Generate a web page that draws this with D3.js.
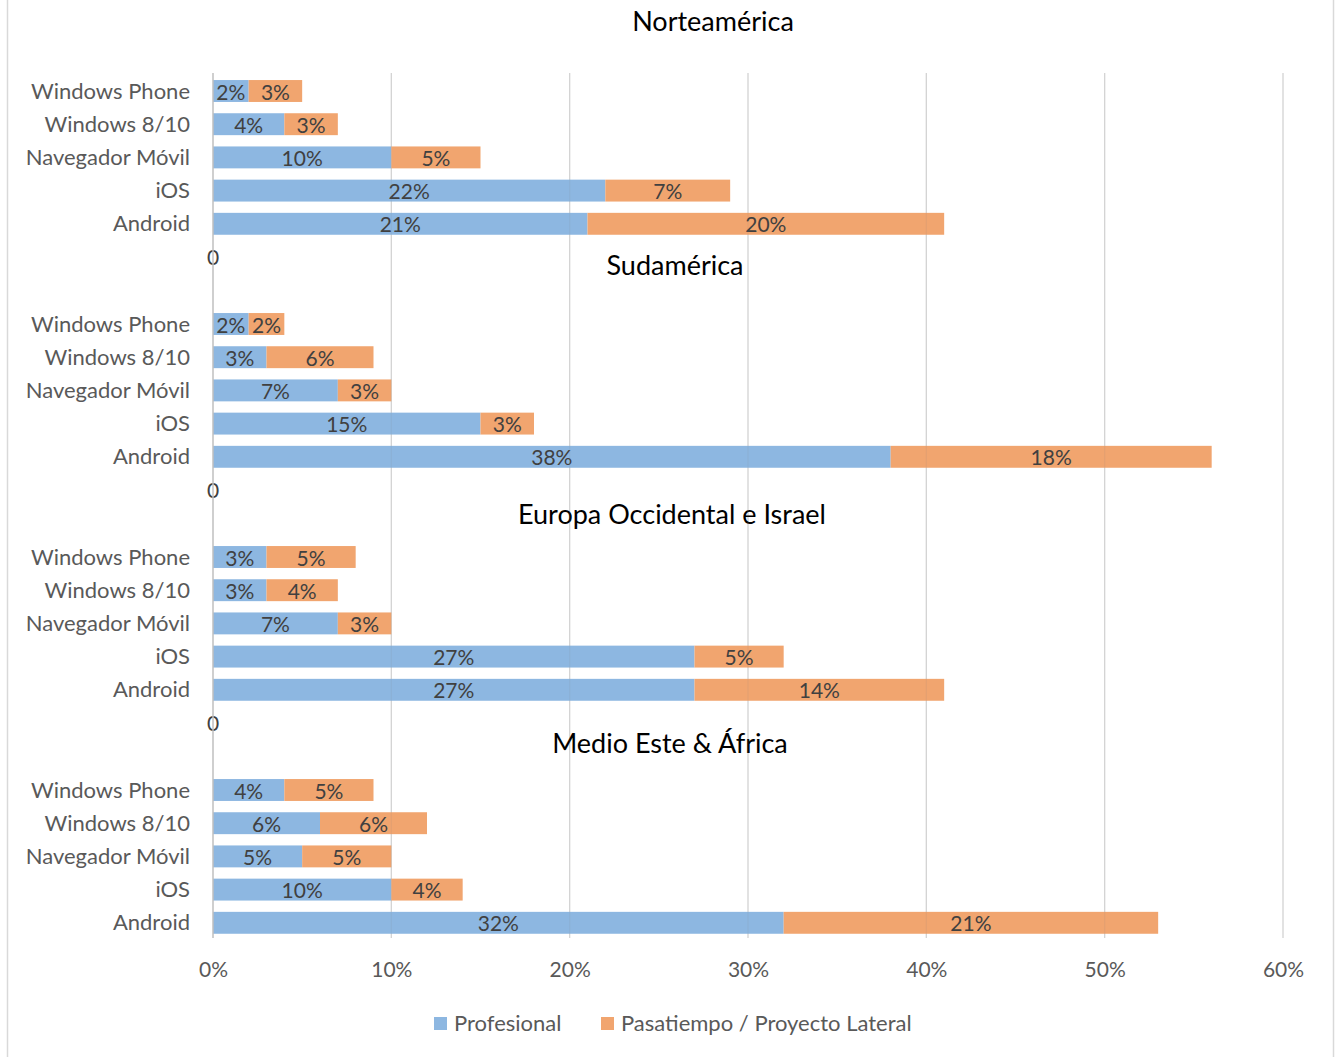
<!DOCTYPE html>
<html>
<head>
<meta charset="utf-8">
<script src="https://cdn.jsdelivr.net/npm/d3@7"></script>
<style>
  body { margin: 0; background: #fff; }
  svg { display: block; font-family: Lato, "Open Sans", sans-serif; }
</style>
</head>
<body>
<svg id="visu" width="1338" height="1057"></svg>
<script>
// data
var regions = ["Norteamérica", "Sudamérica", "Europa Occidental e Israel", "Medio Este & África"];
var platforms = ["Windows Phone", "Windows 8/10", "Navegador Móvil", "iOS", "Android"];
var seriesNames = ["Profesional", "Pasatiempo / Proyecto Lateral"];
var profesional = [
  [2, 4, 10, 22, 21],
  [2, 3, 7, 15, 38],
  [3, 3, 7, 27, 27],
  [4, 6, 5, 10, 32]
];
var pasatiempo = [
  [3, 3, 5, 7, 20],
  [2, 6, 3, 3, 18],
  [5, 4, 3, 5, 14],
  [5, 6, 5, 4, 21]
];
var xTicks = [0, 10, 20, 30, 40, 50, 60];

var svg = d3.select("#visu"),
    WIDTH = 1338,
    HEIGHT = 1057,
    colors = ["#8db7e1", "#f1a56f"],
    titleY = [20, 264, 513, 742],
    titleX = [713, 675, 672, 670],
    panelTop = 74.4,
    panelStep = 233,
    panelH = 166;

var xScale = d3.scaleLinear().domain([0, 60]).range([213, 1283]);

// outer frame (left/right edges)
svg.append("line").attr("x1", 7.5).attr("x2", 7.5).attr("y1", 0).attr("y2", HEIGHT)
  .attr("stroke", "#d9d9d9").attr("stroke-width", 1.5);
svg.append("line").attr("x1", 1333.5).attr("x2", 1333.5).attr("y1", 0).attr("y2", HEIGHT)
  .attr("stroke", "#d9d9d9").attr("stroke-width", 1.5);

// gridlines
svg.append("g").selectAll("line")
  .data(xTicks.slice(1))
  .join("line")
  .attr("x1", function(d) { return xScale(d); })
  .attr("x2", function(d) { return xScale(d); })
  .attr("y1", 73).attr("y2", 938)
  .attr("stroke", "#dedede").attr("stroke-width", 1.3);

// panels
regions.forEach(function(region, i) {
  var y0 = panelTop + i * panelStep;
  var yScale = d3.scaleBand()
    .domain(platforms)
    .range([y0, y0 + panelH])
    .paddingInner(0.34)
    .paddingOuter(0.17);

  var g = svg.append("g");

  g.append("text")
    .attr("x", titleX[i]).attr("y", titleY[i])
    .attr("text-anchor", "middle").attr("dominant-baseline", "central")
    .attr("font-size", 27).attr("fill", "#000")
    .text(region);

  var rows = platforms.map(function(p, j) {
    return { cat: p, a: profesional[i][j], b: pasatiempo[i][j] };
  });

  // category labels
  g.selectAll(".cat")
    .data(rows)
    .join("text")
    .attr("x", 190)
    .attr("y", function(d) { return yScale(d.cat) + yScale.bandwidth() / 2 - 1; })
    .attr("text-anchor", "end").attr("dominant-baseline", "central")
    .attr("font-size", 22).attr("fill", "#595959")
    .text(function(d) { return d.cat; });

  // blue segments
  g.selectAll(".pro")
    .data(rows)
    .join("rect")
    .attr("x", xScale(0))
    .attr("y", function(d) { return yScale(d.cat); })
    .attr("width", function(d) { return xScale(d.a) - xScale(0); })
    .attr("height", yScale.bandwidth())
    .attr("fill", colors[0]);

  // orange segments
  g.selectAll(".hob")
    .data(rows)
    .join("rect")
    .attr("x", function(d) { return xScale(d.a); })
    .attr("y", function(d) { return yScale(d.cat); })
    .attr("width", function(d) { return xScale(d.a + d.b) - xScale(d.a); })
    .attr("height", yScale.bandwidth())
    .attr("fill", colors[1]);

  // data labels
  g.selectAll(".lblA")
    .data(rows)
    .join("text")
    .attr("x", function(d) { return xScale(d.a / 2); })
    .attr("y", function(d) { return yScale(d.cat) + yScale.bandwidth() / 2; })
    .attr("text-anchor", "middle").attr("dominant-baseline", "central")
    .attr("font-size", 21).attr("fill", "#404040")
    .text(function(d) { return d.a + "%"; });
  g.selectAll(".lblB")
    .data(rows)
    .join("text")
    .attr("x", function(d) { return xScale(d.a + d.b / 2); })
    .attr("y", function(d) { return yScale(d.cat) + yScale.bandwidth() / 2; })
    .attr("text-anchor", "middle").attr("dominant-baseline", "central")
    .attr("font-size", 21).attr("fill", "#404040")
    .text(function(d) { return d.b + "%"; });

  // leftover "0" category label under each of the first panels
  if (i < regions.length - 1) {
    g.append("text")
      .attr("x", xScale(0)).attr("y", y0 + panelH + 16)
      .attr("text-anchor", "middle").attr("dominant-baseline", "central")
      .attr("font-size", 21).attr("fill", "#404040")
      .text("0");
  }
});

// gridlines drawn faintly over bars as well
svg.append("g").selectAll("line")
  .data(xTicks.slice(1))
  .join("line")
  .attr("x1", function(d) { return xScale(d); })
  .attr("x2", function(d) { return xScale(d); })
  .attr("y1", 73).attr("y2", 938)
  .attr("stroke", "#808080").attr("stroke-opacity", 0.1).attr("stroke-width", 1.3);

// vertical axis line at 0
svg.append("line")
  .attr("x1", xScale(0)).attr("x2", xScale(0))
  .attr("y1", 73).attr("y2", 938)
  .attr("stroke", "#bfbfbf").attr("stroke-width", 1.5);

// x axis labels
var xAxis = d3.axisBottom(xScale)
  .tickValues(xTicks)
  .tickSize(0)
  .tickPadding(0)
  .tickFormat(function(d) { return d + "%"; });
var ax = svg.append("g").attr("transform", "translate(0,962)").call(xAxis);
ax.select(".domain").remove();
ax.selectAll("text")
  .attr("font-family", "Lato, 'Open Sans', sans-serif")
  .attr("font-size", 21).attr("fill", "#595959");

// legend
var legend = svg.append("g");
var legendX = [434, 601];
seriesNames.forEach(function(name, k) {
  legend.append("rect")
    .attr("x", legendX[k]).attr("y", 1017)
    .attr("width", 13).attr("height", 13)
    .attr("fill", colors[k]);
  legend.append("text")
    .attr("x", legendX[k] + 20).attr("y", 1022)
    .attr("dominant-baseline", "central")
    .attr("font-size", 22).attr("fill", "#595959")
    .text(name);
});
</script>
</body>
</html>
